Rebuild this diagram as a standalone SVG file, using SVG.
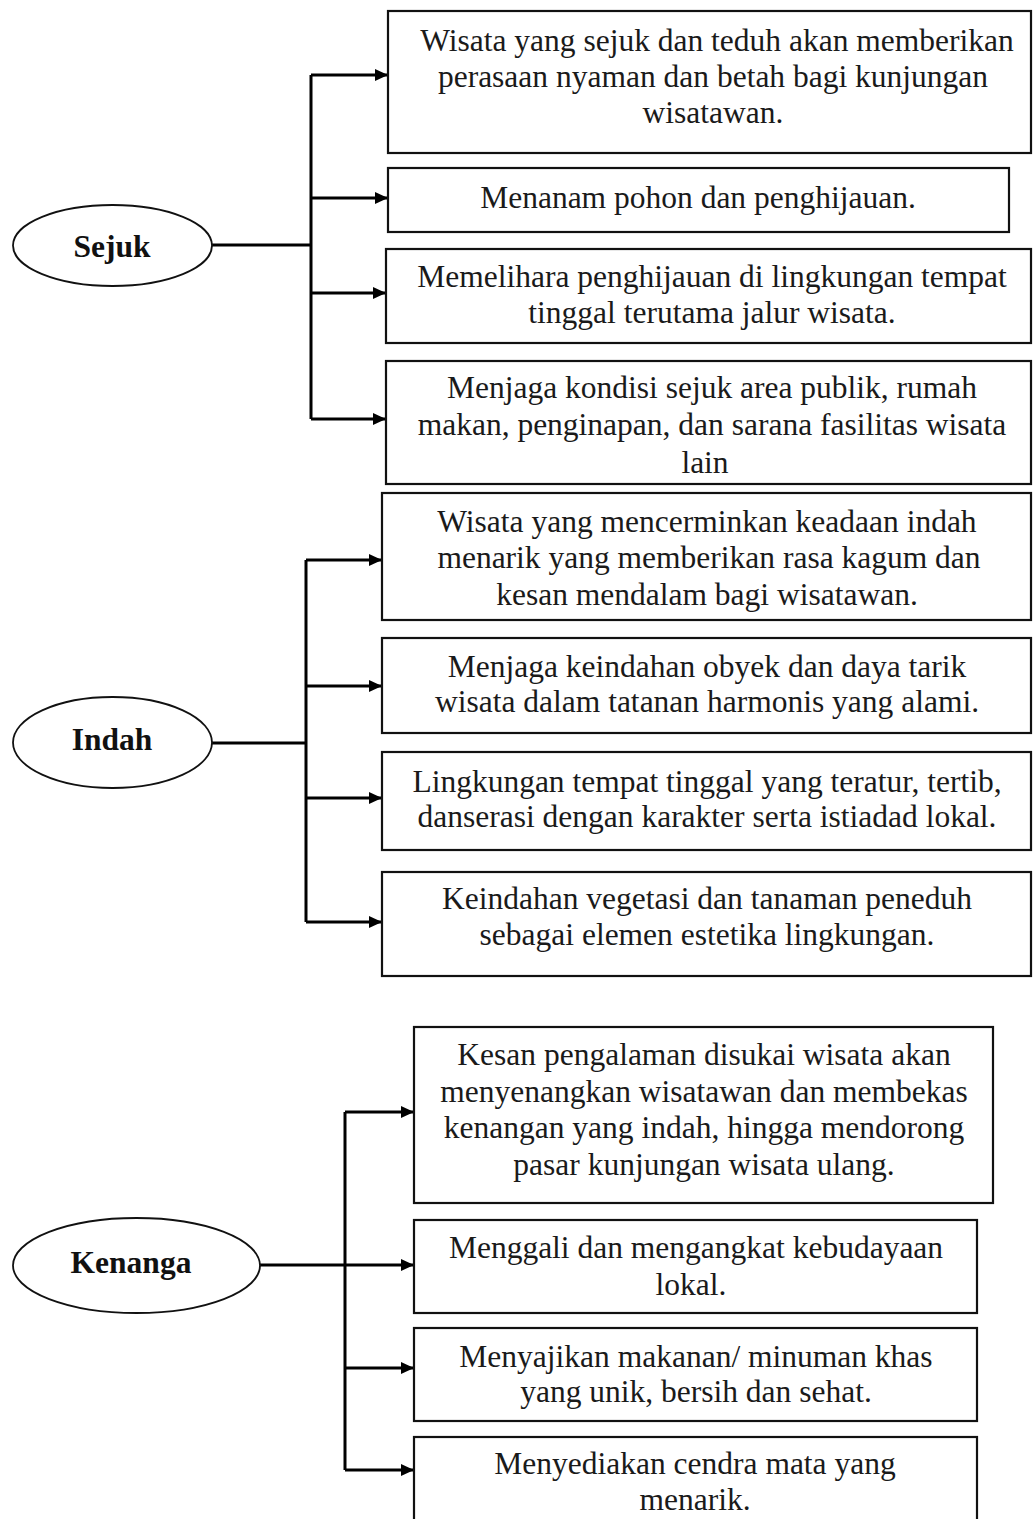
<svg xmlns="http://www.w3.org/2000/svg" width="1033" height="1519" viewBox="0 0 1033 1519">
<defs>
<marker id="ah" markerUnits="userSpaceOnUse" markerWidth="14" markerHeight="12" refX="13" refY="6" orient="auto">
<path d="M0,0 L13,6 L0,12 z" fill="#000"/>
</marker>
<style>
.box{fill:#fff;stroke:#111;stroke-width:2.2}
.oval{fill:#fff;stroke:#111;stroke-width:1.8}
.t{font-family:"Liberation Serif","Times New Roman",serif;font-size:31.5px;fill:#1a1a1a;text-anchor:middle}
.lbl{font-family:"Liberation Serif","Times New Roman",serif;font-size:31.5px;font-weight:bold;fill:#111;text-anchor:middle}
.c{fill:none;stroke:#000;stroke-width:3}
.ca{fill:none;stroke:#000;stroke-width:3;marker-end:url(#ah)}
</style>
</defs>
<rect width="1033" height="1519" fill="#fff"/>

<g id="connectors">
<path class="c" d="M212,245 H311 M311,75 V419"/>
<path class="ca" d="M311,75 H388"/>
<path class="ca" d="M311,198 H388"/>
<path class="ca" d="M311,293 H386"/>
<path class="ca" d="M311,419 H386"/>

<path class="c" d="M212,743 H306 M306,560 V922"/>
<path class="ca" d="M306,560 H382"/>
<path class="ca" d="M306,686 H382"/>
<path class="ca" d="M306,798 H382"/>
<path class="ca" d="M306,922 H382"/>

<path class="c" d="M345,1112 V1470"/>
<path class="ca" d="M260,1265 H414"/>
<path class="ca" d="M345,1112 H414"/>
<path class="ca" d="M345,1368 H414"/>
<path class="ca" d="M345,1470 H414"/>
</g>

<g id="sejuk">
<ellipse class="oval" cx="112.5" cy="245.5" rx="99.5" ry="40.5"/>
<text class="lbl" x="112" y="257">Sejuk</text>
</g>
<g id="sejuk-1">
<rect class="box" x="388" y="11" width="643" height="142"/>
<text class="t" x="717" y="51">Wisata yang sejuk dan teduh akan memberikan</text>
<text class="t" x="713" y="87">perasaan nyaman dan betah bagi kunjungan</text>
<text class="t" x="713" y="123">wisatawan.</text>
</g>
<g id="sejuk-2">
<rect class="box" x="388" y="168" width="621" height="64"/>
<text class="t" x="698" y="208">Menanam pohon dan penghijauan.</text>
</g>
<g id="sejuk-3">
<rect class="box" x="386" y="249" width="645" height="94"/>
<text class="t" x="712" y="287">Memelihara penghijauan di lingkungan tempat</text>
<text class="t" x="712" y="323">tinggal terutama jalur wisata.</text>
</g>
<g id="sejuk-4">
<rect class="box" x="386" y="361" width="645" height="123"/>
<text class="t" x="712" y="398">Menjaga kondisi sejuk area publik, rumah</text>
<text class="t" x="712" y="435">makan, penginapan, dan sarana fasilitas wisata</text>
<text class="t" x="705" y="473">lain</text>
</g>

<g id="indah">
<ellipse class="oval" cx="112.5" cy="742.5" rx="99.5" ry="45.5"/>
<text class="lbl" x="112" y="750">Indah</text>
</g>
<g id="indah-1">
<rect class="box" x="382" y="493" width="649" height="127"/>
<text class="t" x="707" y="532">Wisata yang mencerminkan keadaan indah</text>
<text class="t" x="709" y="568">menarik yang memberikan rasa kagum dan</text>
<text class="t" x="707" y="605">kesan mendalam bagi wisatawan.</text>
</g>
<g id="indah-2">
<rect class="box" x="382" y="638" width="649" height="95"/>
<text class="t" x="707" y="677">Menjaga keindahan obyek dan daya tarik</text>
<text class="t" x="707" y="712">wisata dalam tatanan harmonis yang alami.</text>
</g>
<g id="indah-3">
<rect class="box" x="382" y="752" width="649" height="98"/>
<text class="t" x="707" y="792">Lingkungan tempat tinggal yang teratur, tertib,</text>
<text class="t" x="707" y="827">danserasi dengan karakter serta istiadad lokal.</text>
</g>
<g id="indah-4">
<rect class="box" x="382" y="872" width="649" height="104"/>
<text class="t" x="707" y="909">Keindahan vegetasi dan tanaman peneduh</text>
<text class="t" x="707" y="945">sebagai elemen estetika lingkungan.</text>
</g>

<g id="kenanga">
<ellipse class="oval" cx="136.5" cy="1265.5" rx="123.5" ry="47.5"/>
<text class="lbl" x="131" y="1273">Kenanga</text>
</g>
<g id="kenanga-1">
<rect class="box" x="414" y="1027" width="579" height="176"/>
<text class="t" x="704" y="1065">Kesan pengalaman disukai wisata akan</text>
<text class="t" x="704" y="1102">menyenangkan wisatawan dan membekas</text>
<text class="t" x="704" y="1138">kenangan yang indah, hingga mendorong</text>
<text class="t" x="704" y="1175">pasar kunjungan wisata ulang.</text>
</g>
<g id="kenanga-2">
<rect class="box" x="414" y="1220" width="563" height="93"/>
<text class="t" x="696" y="1258">Menggali dan mengangkat kebudayaan</text>
<text class="t" x="691" y="1295">lokal.</text>
</g>
<g id="kenanga-3">
<rect class="box" x="414" y="1328" width="563" height="93"/>
<text class="t" x="696" y="1367">Menyajikan makanan/ minuman khas</text>
<text class="t" x="696" y="1402">yang unik, bersih dan sehat.</text>
</g>
<g id="kenanga-4">
<rect class="box" x="414" y="1437" width="563" height="100"/>
<text class="t" x="695" y="1474">Menyediakan cendra mata yang</text>
<text class="t" x="695" y="1510">menarik.</text>
</g>
</svg>
